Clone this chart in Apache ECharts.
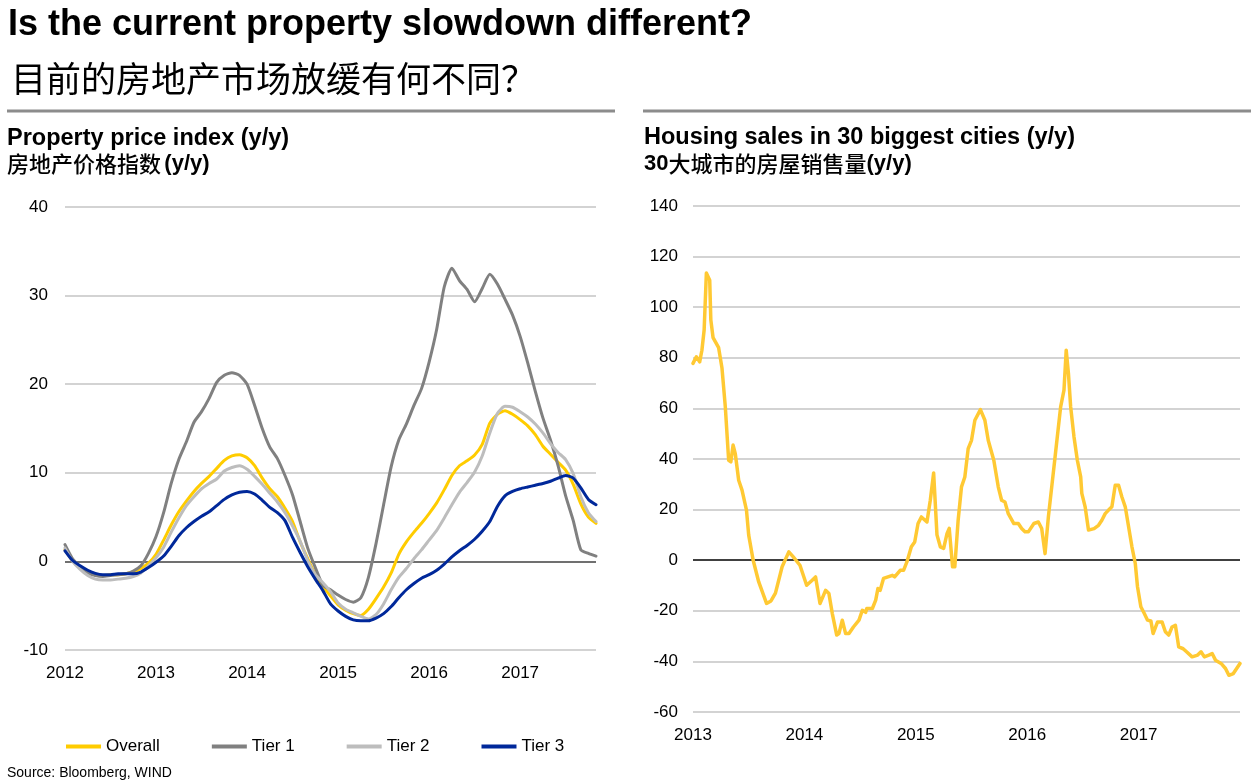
<!DOCTYPE html>
<html><head><meta charset="utf-8">
<script src="https://cdn.jsdelivr.net/npm/echarts@6/dist/echarts.min.js"></script>
<style>html,body{margin:0;padding:0;background:#fff}#c{width:1251px;height:783px}</style>
</head><body><div id="c"></div>
<script>
// ---------- Data: Property price index (y/y), monthly Jan 2012 .. Nov 2017 ----------
const priceStartYear = 2012;
const priceMonthCount = 71;
const overall = [1.3,0.1,-0.6,-1.2,-1.5,-1.6,-1.5,-1.5,-1.4,-1.2,
  -0.8,-0.2,0.8,2.4,4.1,5.6,6.8,7.9,8.8,9.6,
  10.5,11.4,11.9,12.05,11.7,10.8,9.4,8.2,7.3,6.0,
  4.5,2.2,0.3,-1.5,-2.8,-3.9,-4.9,-5.5,-5.9,-6.1,
  -5.4,-4.2,-2.9,-1.3,0.8,2.2,3.3,4.3,5.4,6.6,
  8.1,9.7,10.8,11.35,12.0,13.2,15.6,16.6,17.0,16.6,
  16.0,15.3,14.3,13.0,12.1,11.2,10.3,8.7,6.5,5.0,
  4.3];
const tier1 = [1.9,0.3,-0.6,-1.3,-1.6,-1.7,-1.6,-1.5,-1.4,-1.1,
  -0.5,0.9,2.8,5.5,8.8,11.5,13.5,15.7,16.9,18.4,
  20.2,21.0,21.3,21.0,20.0,17.6,15.0,12.9,11.6,9.7,
  7.5,4.5,1.5,-0.7,-2.7,-3.2,-3.8,-4.3,-4.6,-4.1,
  -1.8,2.0,6.4,10.7,13.7,15.5,17.6,19.5,22.5,26.2,
  31.0,33.1,31.7,30.7,29.3,30.8,32.4,31.3,29.6,27.8,
  25.4,22.4,19.2,16.2,13.7,10.8,7.4,4.6,1.3,0.9,
  0.6];
const tier2 = [1.5,0.0,-0.9,-1.6,-2.0,-2.1,-2.1,-2.0,-1.9,-1.7,
  -1.3,-0.5,0.4,1.6,3.3,4.9,6.3,7.3,8.2,8.8,
  9.3,10.2,10.6,10.8,10.4,9.6,8.7,7.7,6.7,5.5,
  4.0,2.3,0.1,-1.5,-2.4,-3.4,-4.7,-5.4,-5.8,-6.2,
  -6.5,-6.0,-4.8,-3.2,-1.8,-0.8,0.3,1.3,2.4,3.5,
  4.9,6.4,7.8,8.9,10.1,11.9,14.5,16.7,17.5,17.4,
  16.9,16.3,15.5,14.5,13.3,12.3,11.5,9.9,7.3,5.5,
  4.5];
const tier3 = [1.2,0.1,-0.5,-1.0,-1.35,-1.5,-1.5,-1.4,-1.4,-1.4,
  -1.2,-0.7,-0.1,0.6,1.7,2.9,3.8,4.5,5.1,5.6,
  6.3,7.0,7.5,7.8,7.9,7.6,6.9,6.1,5.5,4.6,
  2.7,1.0,-0.6,-2.0,-3.3,-4.8,-5.6,-6.2,-6.6,-6.7,
  -6.7,-6.4,-5.9,-5.1,-4.1,-3.2,-2.5,-1.9,-1.5,-1.0,
  -0.3,0.5,1.2,1.8,2.5,3.4,4.5,6.2,7.4,7.9,
  8.2,8.4,8.6,8.8,9.05,9.4,9.7,9.4,8.3,7.0,
  6.4];
const priceSeriesNames = ['Overall','Tier 1','Tier 2','Tier 3'];
const priceTicksY = {min:-10, max:40, step:10};

// ---------- Data: Housing sales in 30 biggest cities (y/y) ----------
const salesTime = [2013.00,2013.03,2013.06,2013.08,2013.10,2013.12,2013.15,2013.16,2013.18,2013.23,
  2013.26,2013.29,2013.32,2013.34,2013.36,2013.38,2013.41,2013.44,2013.48,2013.50,
  2013.54,2013.59,2013.66,2013.70,2013.74,2013.80,2013.86,2013.90,2013.96,2014.02,
  2014.07,2014.10,2014.11,2014.14,2014.16,2014.19,2014.22,2014.25,2014.29,2014.31,
  2014.34,2014.37,2014.40,2014.44,2014.49,2014.52,2014.55,2014.56,2014.61,2014.64,
  2014.66,2014.68,2014.71,2014.75,2014.79,2014.81,2014.86,2014.89,2014.92,2014.96,
  2014.99,2015.02,2015.05,2015.10,2015.13,2015.16,2015.19,2015.22,2015.25,2015.28,
  2015.30,2015.33,2015.35,2015.38,2015.41,2015.44,2015.47,2015.50,2015.53,2015.58,
  2015.62,2015.65,2015.70,2015.74,2015.77,2015.80,2015.83,2015.88,2015.92,2015.95,
  2015.98,2016.01,2016.06,2016.10,2016.13,2016.16,2016.19,2016.22,2016.25,2016.30,
  2016.33,2016.35,2016.37,2016.39,2016.42,2016.45,2016.48,2016.49,2016.52,2016.55,
  2016.60,2016.64,2016.67,2016.70,2016.73,2016.76,2016.79,2016.82,2016.85,2016.88,
  2016.91,2016.94,2016.97,2016.99,2017.02,2017.05,2017.08,2017.11,2017.13,2017.17,
  2017.21,2017.24,2017.27,2017.30,2017.33,2017.36,2017.40,2017.43,2017.48,2017.53,
  2017.56,2017.59,2017.63,2017.66,2017.69,2017.74,2017.78,2017.81,2017.85,2017.88,
  2017.91];
const salesValues = [77.8,80.4,78.4,83,91,113.5,110.7,95,88,84,
  76,60.6,39.5,38.9,45.5,42,31.6,27.7,19.8,9.9,
  0,-8.6,-17.1,-16.1,-13,-2.6,3.3,1.3,-2,-9.9,
  -7.9,-6.6,-9.2,-17.1,-15.1,-11.9,-13.2,-21,-29.6,-29,
  -23.7,-29,-29,-26.4,-23.7,-19.8,-20.6,-19.1,-19.1,-15.8,
  -11.2,-11.9,-7.2,-6.6,-6,-6.6,-4,-4,-0.7,5.3,
  7.2,14.5,17.1,15.1,23.7,34.5,10,5.3,4.7,10.5,
  12.6,-2.6,-2.6,15.8,29,32.9,44.1,47.4,55.3,59.5,
  55.3,47.4,39.5,29,23.7,23,18.4,14.5,14.5,12.5,
  11.2,11.2,14.5,15.1,12.5,2.6,17.1,29,40.8,60.6,
  67.2,83,73.8,60.6,48.7,39.5,32.9,26.4,21.1,11.9,
  12.5,13.8,15.8,18.4,19.8,21.1,29.6,29.6,25,21.1,
  13.2,5.3,-1.3,-10.5,-18.4,-21,-23.7,-24,-29,-24.4,
  -24.4,-28.3,-29.6,-26.4,-25.7,-34.3,-35,-36.2,-38.2,-37.5,
  -36.2,-38.2,-37.5,-36.9,-39.5,-40.8,-42.8,-45.5,-44.8,-42.8,
  -40.8];
const salesTicksY = {min:-60, max:140, step:20};

// ---------- Build ----------
const FONT = "'Liberation Sans', Arial, 'Noto Sans CJK SC', sans-serif";
const CJK = "'Noto Sans CJK SC', 'Liberation Sans', sans-serif";
const priceX = [];
for (let i = 0; i < priceMonthCount; i++) priceX.push(priceStartYear + i / 12);
const pairs = (xs, ys) => xs.map((x, i) => [x, ys[i]]);
const yearLabel = v => Math.abs(v - Math.round(v)) < 1e-6 ? String(Math.round(v)) : '';
const splitColors = (t, zeroColor) => {
  const arr = [];
  for (let v = t.min; v <= t.max + 1e-9; v += t.step) arr.push(Math.abs(v) < 1e-9 ? zeroColor : '#c4c4c4');
  return arr;
};

const chart = echarts.init(document.getElementById('c'), null, {renderer: 'canvas'});
const lineSeries = (name, data, color, z) => ({
  name, type: 'line', xAxisIndex: 0, yAxisIndex: 0, data: pairs(priceX, data),
  showSymbol: false, smooth: 0.2, z,
  lineStyle: {color, width: 3, cap: 'round', join: 'round'}, itemStyle: {color}
});

chart.setOption({
  animation: false,
  backgroundColor: '#fff',
  textStyle: {fontFamily: FONT},
  graphic: [
    {type: 'text', x: 8, y: 25, style: {text: 'Is the current property slowdown different?', font: 'bold 36px ' + FONT, fill: '#000', verticalAlign: 'middle'}},
    {type: 'text', x: 11, y: 79, style: {text: '目前的房地产市场放缓有何不同？', font: '35px ' + CJK, fill: '#000', verticalAlign: 'middle'}},
    {type: 'line', shape: {x1: 7, y1: 111, x2: 615, y2: 111}, style: {stroke: '#8c8c8c', lineWidth: 3}},
    {type: 'line', shape: {x1: 643, y1: 111, x2: 1251, y2: 111}, style: {stroke: '#8c8c8c', lineWidth: 3}},
    {type: 'text', x: 7, y: 139, style: {text: 'Property price index (y/y)', font: 'bold 23.5px ' + FONT, fill: '#000', verticalAlign: 'middle'}},
    {type: 'text', x: 7, y: 164, style: {text: '{a|房地产价格指数} {b|(y/y)}', verticalAlign: 'middle',
      rich: {a: {fontFamily: CJK, fontSize: 22, fontWeight: 500, color: '#000'}, b: {fontFamily: FONT, fontSize: 22, fontWeight: 'bold', color: '#000'}}}},
    {type: 'text', x: 644, y: 138, style: {text: 'Housing sales in 30 biggest cities (y/y)', font: 'bold 23.5px ' + FONT, fill: '#000', verticalAlign: 'middle'}},
    {type: 'text', x: 644, y: 164, style: {text: '{b|30}{a|大城市的房屋销售量}{b|(y/y)}', verticalAlign: 'middle',
      rich: {a: {fontFamily: CJK, fontSize: 22, fontWeight: 500, color: '#000'}, b: {fontFamily: FONT, fontSize: 22, fontWeight: 'bold', color: '#000'}}}},
    {type: 'text', x: 7, y: 773, style: {text: 'Source: Bloomberg, WIND', font: '14px ' + FONT, fill: '#000', verticalAlign: 'middle'}}
  ],
  legend: {
    left: 61, top: 733, icon: 'rect', itemWidth: 35, itemHeight: 4, itemGap: 52,
    data: priceSeriesNames,
    textStyle: {fontSize: 17, color: '#000', fontFamily: FONT}
  },
  grid: [
    {left: 65, right: 655, top: 207, bottom: 133},
    {left: 693, right: 11, top: 206, bottom: 71}
  ],
  xAxis: [
    {type: 'value', gridIndex: 0, min: priceStartYear, max: priceStartYear + (priceMonthCount - 1) / 12, interval: 1,
      axisLine: {show: false}, axisTick: {show: false}, splitLine: {show: false},
      axisLabel: {formatter: yearLabel, fontSize: 17, color: '#000', margin: 15, showMaxLabel: false}},
    {type: 'value', gridIndex: 1, min: 2013, max: salesTime[salesTime.length - 1], interval: 1,
      axisLine: {show: false}, axisTick: {show: false}, splitLine: {show: false},
      axisLabel: {formatter: yearLabel, fontSize: 17, color: '#000', margin: 15, showMaxLabel: false}}
  ],
  yAxis: [
    {type: 'value', gridIndex: 0, min: priceTicksY.min, max: priceTicksY.max, interval: priceTicksY.step,
      axisLine: {show: false}, axisTick: {show: false},
      axisLabel: {fontSize: 17, color: '#000', margin: 17},
      splitLine: {show: true, showMinLine: true, showMaxLine: true, lineStyle: {color: splitColors(priceTicksY, '#404040'), width: 1.5}}},
    {type: 'value', gridIndex: 1, min: salesTicksY.min, max: salesTicksY.max, interval: salesTicksY.step,
      axisLine: {show: false}, axisTick: {show: false},
      axisLabel: {fontSize: 17, color: '#000', margin: 15},
      splitLine: {show: true, showMinLine: true, showMaxLine: true, lineStyle: {color: splitColors(salesTicksY, '#000000'), width: 1.5}}}
  ],
  series: [
    lineSeries('Overall', overall, '#FFCC00', 2),
    lineSeries('Tier 1', tier1, '#808080', 3),
    lineSeries('Tier 2', tier2, '#BDBDBD', 4),
    lineSeries('Tier 3', tier3, '#00289A', 5),
    {name: 'Housing sales', type: 'line', xAxisIndex: 1, yAxisIndex: 1, data: pairs(salesTime, salesValues),
      showSymbol: false, smooth: false,
      lineStyle: {color: '#FFC933', width: 3.5, cap: 'round', join: 'round'}, itemStyle: {color: '#FFC933'}}
  ]
});
</script></body></html>
